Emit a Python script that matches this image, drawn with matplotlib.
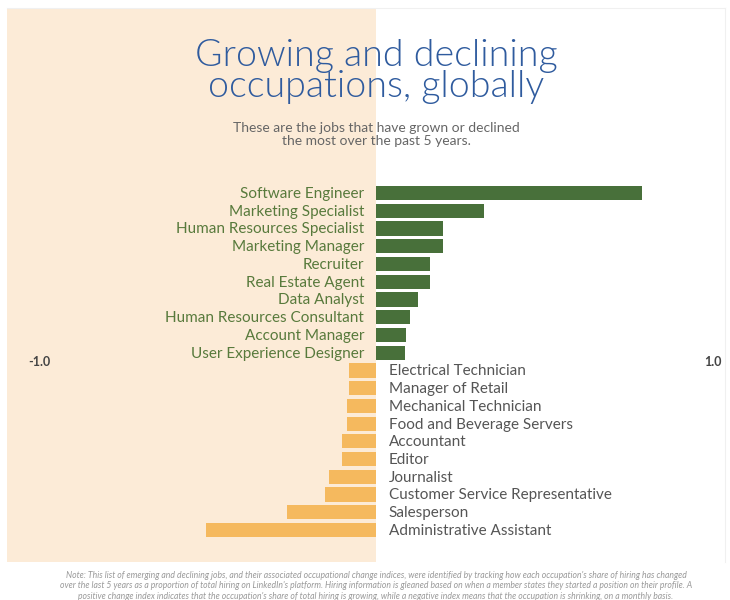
import matplotlib
matplotlib.use("Agg")
import matplotlib.pyplot as plt

# growing occupations (top to bottom)
grow_jobs = ["Software Engineer", "Marketing Specialist", "Human Resources Specialist",
             "Marketing Manager", "Recruiter", "Real Estate Agent", "Data Analyst",
             "Human Resources Consultant", "Account Manager", "User Experience Designer"]
grow_vals = [0.79, 0.32, 0.20, 0.20, 0.16, 0.16, 0.125, 0.10, 0.09, 0.085]

# declining occupations (top to bottom)
decline_jobs = ["Electrical Technician", "Manager of Retail", "Mechanical Technician",
                "Food and Beverage Servers", "Accountant", "Editor", "Journalist",
                "Customer Service Representative", "Salesperson", "Administrative Assistant"]
decline_vals = [-0.08, -0.08, -0.086, -0.086, -0.10, -0.10, -0.14, -0.15, -0.265, -0.505]

axis_ticks = [-1.0, 1.0]

title = "Growing and declining\noccupations, globally"
subtitle = "These are the jobs that have grown or declined\nthe most over the past 5 years."
note = ("Note: This list of emerging and declining jobs, and their associated occupational change indices, were identified by tracking how each occupation's share of hiring has changed\n"
        "over the last 5 years as a proportion of total hiring on LinkedIn's platform. Hiring information is gleaned based on when a member states they started a position on their profile. A\n"
        "positive change index indicates that the occupation's share of total hiring is growing, while a negative index means that the occupation is shrinking, on a monthly basis.")

GREEN = "#48703a"
ORANGE = "#f5b95e"
BEIGE = "#fcebd7"
FONT = "Lato"

W, H = 730, 600
fig = plt.figure(figsize=(W / 100, H / 100), dpi=100)
fig.patch.set_facecolor("white")

# axes cover the panel area (pixels 7..725 horizontally, 8..562 vertically)
ax = fig.add_axes([7 / W, (H - 562) / H, (725 - 7) / W, (562 - 8) / H])
ax.set_facecolor("white")
xl = (-(376 - 7) / 337, (725 - 376) / 337)
ax.set_xlim(*xl)
ax.set_ylim(20.8, -10.43)
ax.axvspan(xl[0], 0, color=BEIGE, zorder=0, lw=0)
for s in ax.spines.values():
    s.set_visible(False)
ax.spines["top"].set_visible(True)
ax.spines["top"].set_color("#f0f0f0")
ax.spines["right"].set_visible(True)
ax.spines["right"].set_color("#f0f0f0")
ax.set_xticks([])
ax.set_yticks([])

n = len(grow_jobs)
ys_g = list(range(n))
ys_d = [n + i for i in range(len(decline_jobs))]

ax.barh(ys_g, grow_vals, height=0.8, color=GREEN, zorder=2)
ax.barh(ys_d, decline_vals, height=0.8, color=ORANGE, zorder=2)

for y, name in zip(ys_g, grow_jobs):
    ax.text(-0.035, y + 0.05, name, ha="right", va="center", fontsize=11,
            color="#587a3c", family=FONT)
for y, name in zip(ys_d, decline_jobs):
    ax.text(0.038, y + 0.05, name, ha="left", va="center", fontsize=11,
            color="#555555", family=FONT)

for t in axis_ticks:
    ax.text(t, n - 0.5, f"{t:.1f}", ha="center", va="center", fontsize=9,
            color="#444444", family=FONT, fontweight="bold")

ax.text(0, -6.85, title, ha="center", va="center", fontsize=27, color="#2f5b9e",
        family=FONT, fontweight=300, linespacing=0.92)
ax.text(0, -3.3, subtitle, ha="center", va="center", fontsize=10, color="#666666",
        family=FONT, linespacing=1.12)

fig.text(376 / W, 1 - 586 / H, note, ha="center", va="center", fontsize=6.2,
         color="#999999", style="italic", family=FONT, linespacing=1.25)

fig.savefig("out.png", dpi=100, facecolor="white")
